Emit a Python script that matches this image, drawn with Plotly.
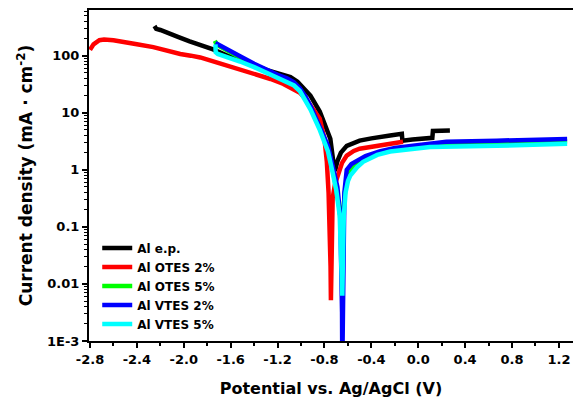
import plotly.graph_objects as go

# ---------------- data ----------------
ep_v = [-2.25, -2.235, -2.20, -2.14, -2.05, -1.95, -1.85, -1.75, -1.63, -1.52, -1.40, -1.29,
        -1.18, -1.09, -1.03, -0.98, -0.92, -0.84, -0.79, -0.75, -0.725, -0.71, -0.69, -0.66,
        -0.61, -0.55, -0.50, -0.40, -0.33, -0.24, -0.14, -0.135, -0.05, 0.05, 0.12, 0.125, 0.20, 0.27]
ep_i = [331, 295, 282, 257, 214, 178, 151, 129, 100, 85, 68, 56,
        48, 42, 35, 27.5, 20, 10.5, 6.0, 3.5, 1.41, 0.95, 1.41, 2.0,
        2.63, 3.02, 3.24, 3.55, 3.80, 3.98, 4.27, 3.24, 3.39, 3.55, 3.63, 4.79, 4.79, 4.90]

otes2_v = [-2.80, -2.77, -2.72, -2.68, -2.60, -2.50, -2.40, -2.26, -2.15, -2.03, -1.94, -1.86,
           -1.70, -1.52, -1.40, -1.26, -1.15, -1.09, -1.01, -0.95, -0.90, -0.84, -0.80, -0.78,
           -0.765, -0.755, -0.748, -0.745, -0.742, -0.738, -0.73, -0.71, -0.685, -0.65, -0.61,
           -0.55, -0.50, -0.40, -0.33, -0.22, -0.13]
otes2_i = [126, 158, 186, 191, 186, 174, 158, 141, 123, 107, 100, 93,
           74, 58, 48, 39, 32, 28, 22.4, 16.6, 12.0, 7.9, 3.5, 1.4,
           0.40, 0.10, 0.020, 0.0052, 0.020, 0.10, 0.32, 0.56, 0.79, 1.32, 1.78,
           2.14, 2.34, 2.51, 2.63, 2.82, 3.09]

otes5_v = [-1.735, -1.725, -1.70, -1.60, -1.52, -1.40, -1.29, -1.20, -1.12, -1.06, -1.01, -0.96,
           -0.92, -0.84, -0.77, -0.73, -0.70, -0.67, -0.655, -0.65, -0.645, -0.635, -0.62, -0.60,
           -0.57, -0.52, -0.45, -0.33, -0.20, 0.10, 0.67, 1.00, 1.27]
otes5_i = [182, 166, 148, 117, 93, 69, 52, 45, 38, 32, 26, 17.8,
           12.3, 5.5, 2.4, 1.05, 0.50, 0.20, 0.063, 0.016, 0.063, 0.25, 0.50, 0.79,
           1.07, 1.32, 1.58, 1.95, 2.24, 2.75, 2.95, 3.09, 3.16]

vtes2_v = [-1.73, -1.70, -1.60, -1.52, -1.40, -1.29, -1.20, -1.12, -1.06, -1.01, -0.96, -0.92,
           -0.84, -0.77, -0.73, -0.69, -0.665, -0.655, -0.65, -0.648, -0.645, -0.64, -0.63, -0.61,
           -0.57, -0.52, -0.45, -0.33, -0.20, -0.045, 0.24, 0.67, 1.00, 1.27]
vtes2_i = [166, 155, 123, 98, 72, 55, 46, 40, 34, 27, 19, 13.2,
           5.9, 2.63, 1.17, 0.50, 0.158, 0.032, 0.0032, 0.00032, 0.0032, 0.10, 0.40, 1.00,
           1.26, 1.45, 1.74, 2.09, 2.40, 2.63, 3.09, 3.24, 3.39, 3.47]

vtes5_v = [-1.73, -1.728, -1.71, -1.65, -1.52, -1.40, -1.29, -1.20, -1.12, -1.06, -1.01, -0.96,
           -0.92, -0.84, -0.77, -0.73, -0.70, -0.67, -0.655, -0.648, -0.642, -0.635, -0.62, -0.60,
           -0.58, -0.52, -0.47, -0.35, -0.24, 0.10, 0.67, 1.00, 1.27]
vtes5_i = [158, 115, 107, 98, 79, 63, 50, 42, 35, 30, 24, 16.6,
           11.5, 5.0, 2.09, 0.89, 0.45, 0.158, 0.032, 0.0062, 0.032, 0.158, 0.40, 0.63,
           0.79, 1.12, 1.38, 1.82, 2.09, 2.51, 2.63, 2.75, 2.85]

series_names = ["Al e.p.", "Al OTES 2%", "Al OTES 5%", "Al VTES 2%", "Al VTES 5%"]
series_colors = ["#000000", "#ff0000", "#00ff00", "#0000ff", "#00ffff"]

x_tickvals = [-2.8, -2.4, -2.0, -1.6, -1.2, -0.8, -0.4, 0.0, 0.4, 0.8, 1.2]
x_ticktext = ["-2.8", "-2.4", "-2.0", "-1.6", "-1.2", "-0.8", "-0.4", "0.0", "0.4", "0.8", "1.2"]
x_minor = [-2.6, -2.2, -1.8, -1.4, -1.0, -0.6, -0.2, 0.2, 0.6, 1.0]
y_tickvals = [0.001, 0.01, 0.1, 1, 10, 100]
y_ticktext = ["1E-3", "0.01", "0.1", "1", "10", "100"]
y_minor = [m * d for d in [0.001, 0.01, 0.1, 1, 10, 100] for m in range(2, 10)]

# ---------------- figure ----------------
FONT = "DejaVu Sans"
fig = go.Figure()
data = [(ep_v, ep_i), (otes2_v, otes2_i), (otes5_v, otes5_i), (vtes2_v, vtes2_i), (vtes5_v, vtes5_i)]
for (xv, yv), name, col in zip(data, series_names, series_colors):
    fig.add_trace(go.Scatter(x=xv, y=yv, mode="lines", name=name,
                             line=dict(color=col, width=4.5)))

fig.update_layout(
    width=573, height=398,
    margin=dict(l=89, r=0, t=10, b=55),
    paper_bgcolor="white", plot_bgcolor="white",
    showlegend=True,
    legend=dict(x=0.017, y=0.325, xanchor="left", yanchor="top",
                bgcolor="rgba(0,0,0,0)", borderwidth=0,
                font=dict(family=FONT, size=12, color="black", weight="bold"),
                tracegroupgap=0),
    font=dict(family=FONT, color="black"),
)
fig.update_xaxes(
    range=[-2.8085, 1.32], tickvals=x_tickvals, ticktext=x_ticktext,
    showgrid=False, zeroline=False,
    showline=True, linecolor="black", linewidth=2, mirror=True,
    ticks="outside", ticklen=5, tickwidth=2, tickcolor="black",
    minor=dict(tickvals=x_minor, ticks="outside", ticklen=3, tickwidth=1.5, tickcolor="black"),
    tickfont=dict(family=FONT, size=13, color="black", weight="bold"),
    title=dict(text="Potential vs. Ag/AgCl (V)", standoff=20,
               font=dict(family=FONT, size=16, color="black", weight="bold")),
)
fig.update_yaxes(
    type="log", range=[-3, 2.80], tickvals=y_tickvals, ticktext=y_ticktext,
    showgrid=False, zeroline=False,
    showline=True, linecolor="black", linewidth=2, mirror=False,
    ticks="outside", ticklen=5, tickwidth=2, tickcolor="black",
    minor=dict(tickvals=y_minor, ticks="outside", ticklen=3, tickwidth=1, tickcolor="black"),
    tickfont=dict(family=FONT, size=13, color="black", weight="bold"),
    title=dict(text="Current density (mA · cm<sup>-2</sup>)", standoff=10,
               font=dict(family=FONT, size=17, color="black", weight="bold")),
)

fig.write_html("out.html")
